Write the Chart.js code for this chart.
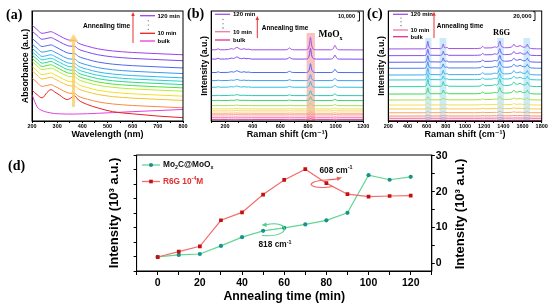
<!DOCTYPE html>
<html>
<head>
<meta charset="utf-8">
<script src="https://cdn.jsdelivr.net/npm/chart.js@4.4.1/dist/chart.umd.min.js"></script>
<style>
  body { margin: 0; background: #fff; width: 550px; height: 307px; position: relative; overflow: hidden; }
  .panel { position: absolute; }
</style>
</head>
<body>
<div class="panel" style="left:0;top:0"><canvas id="ca" width="190" height="145"></canvas></div>
<div class="panel" style="left:185px;top:0"><canvas id="cb" width="185" height="145"></canvas></div>
<div class="panel" style="left:362px;top:0"><canvas id="cc" width="188" height="145"></canvas></div>
<div class="panel" style="left:0;top:145px"><canvas id="cd" width="550" height="162"></canvas></div>
<script>
const SANS = "'Liberation Sans', 'DejaVu Sans', Arial, sans-serif";
const SERIF = "'Liberation Serif', 'DejaVu Serif', serif";

// (a) UV-vis absorbance, stacked (arbitrary units)
const absWavelength = [200, 220, 240, 260, 275, 290, 310, 340, 355, 368, 385, 420, 460, 520, 600, 700, 800];
const absShape = [27, 23, 19.5, 20.3, 21, 19.6, 17.2, 13.8, 13.2, 13.2, 10.5, 7.8, 5.5, 3.5, 2.1, 1, 0];
const absOffsets = [60.2, 54.8, 48.2, 43.1, 39.2, 36.1, 33.1, 30.1, 27.1, 22.6, 18.7, 12.0]; // 120 min ... 20 min
const absColors = ['#a040f0', '#7a4cf0', '#4f68f0', '#3c96f0', '#30b8f0', '#28d0d0', '#28d890', '#50e040', '#b8ec30', '#f0e028', '#f8c030', '#f88a40'];
const abs10min = [28, 24, 21, 26, 28.5, 26.5, 23.5, 19.5, 21, 23, 19, 15, 12, 8.5, 6.5, 4.5, 3];
const absBulk = [24, 13, 9.5, 8, 7.3, 6.8, 6.5, 6.3, 6.3, 6.3, 6.4, 6.6, 7, 7.6, 8.5, 9.5, 10.5];

// (b) Raman of Mo2C@MoOx, peak profile relative to the 818 cm-1 band
const ramanX = [100, 135, 150, 165, 225, 245, 262, 275, 287, 300, 322, 337, 352, 372, 390, 640, 655, 666, 678, 700, 780, 798, 810, 818, 826, 838, 860, 965, 983, 995, 1007, 1025, 1200];
const moProfile = [0.02, 0.02, 0.1, 0.02, 0.04, 0.11, 0.07, 0.15, 0.22, 0.12, 0.05, 0.11, 0.05, 0.07, 0.02, 0.02, 0.07, 0.17, 0.07, 0.02, 0.02, 0.06, 0.4, 1, 0.4, 0.07, 0.02, 0.02, 0.12, 0.38, 0.12, 0.02, 0.01];
const moOffsets = [64.5, 56.1, 43.9, 36.6, 30.6, 23, 18.5, 13.9, 10.9, 9.1, 7, 5.5, 3.4, 1.5];   // 120 min ... bulk
const moPeaks = [11.5, 10, 8.2, 5.5, 5.5, 4.5, 3.6, 2.7, 2.3, 1.8, 1.4, 1.1, 0.8, 0.6];
const moColors = ['#a050e8', '#8048f0', '#4a6cf0', '#3aa0f0', '#30c0e0', '#30c8b0', '#40d070', '#a8e050', '#e8e060', '#f8d070', '#f8b070', '#f89090', '#f070a0', '#e03090'];

// (c) SERS of R6G, peak profile relative to the 1363 cm-1 band
const r6gX = [200, 560, 592, 602, 612, 622, 640, 740, 762, 773, 784, 800, 812, 830, 1100, 1165, 1185, 1205, 1280, 1310, 1330, 1348, 1363, 1378, 1420, 1480, 1498, 1510, 1524, 1550, 1575, 1598, 1625, 1640, 1650, 1660, 1690, 1800];
const r6gProfile = [0, 0.01, 0.06, 0.35, 0.95, 0.35, 0.06, 0.04, 0.2, 0.62, 0.2, 0.14, 0.2, 0.05, 0.05, 0.1, 0.32, 0.12, 0.14, 0.26, 0.2, 0.4, 1, 0.38, 0.15, 0.22, 0.38, 0.6, 0.36, 0.3, 0.42, 0.26, 0.22, 0.34, 0.58, 0.3, 0.05, 0.01];
const r6gOffsets = [65.5, 59.4, 53.4, 47.9, 41.8, 37.3, 31.2, 24.5, 19.1, 14.5, 10.9, 7.5, 4.5, 2.5, 0.6];
const r6gPeaks = [7.3, 6.4, 6.4, 6.4, 6.8, 5.9, 7.3, 5.9, 3.2, 2.3, 1.8, 1.4, 1, 0.6, 0.3];
const r6gColors = ['#a050e8', '#8a50f0', '#6060f0', '#4a80f0', '#40a8f0', '#30c8d8', '#30d0a0', '#40d850', '#a8e048', '#f0e050', '#f8c850', '#f8a860', '#f88878', '#f06890', '#e03c9c'];

// (d) peak intensity vs annealing time
const annealTime = [0, 10, 20, 30, 40, 50, 60, 70, 80, 90, 100, 110, 120];
const mo2c818 = [0.1, 0.45, 0.6, 2.0, 3.5, 4.6, 5.1, 5.7, 6.4, 7.7, 14.2, 13.4, 13.9];   // left axis
const r6g608 = [1.7, 3.2, 4.7, 12.0, 14.2, 19.2, 23.3, 26.3, 22.4, 19.3, 18.6, 18.8, 18.9]; // right axis

Chart.defaults.font.family = SANS;
Chart.defaults.color = '#000';

function stacked(xs, profile, offsets, heights, colors) {
  return offsets.map((off, i) => ({
    data: xs.map((x, j) => ({ x, y: off + heights[i] * profile[j] })),
    borderColor: colors[i]
  }));
}

function rich(ctx, parts, x, y, size, family, color, align) {
  ctx.save();
  ctx.fillStyle = color;
  ctx.textBaseline = 'middle';
  ctx.textAlign = 'left';
  const f = s => `bold ${s ? size * 0.65 : size}px ${family}`;
  let w = 0;
  for (const [t, s] of parts) { ctx.font = f(s); w += ctx.measureText(t).width; }
  let cx = align === 'right' ? x - w : align === 'center' ? x - w / 2 : x;
  for (const [t, s] of parts) {
    ctx.font = f(s);
    ctx.fillText(t, cx, y + s * size * 0.32);
    cx += ctx.measureText(t).width;
  }
  ctx.restore();
}

function arrowUp(ctx, x, yFrom, yTo, color, lw, hw, hh) {
  ctx.save();
  ctx.strokeStyle = color; ctx.fillStyle = color; ctx.lineWidth = lw;
  ctx.beginPath(); ctx.moveTo(x, yFrom); ctx.lineTo(x, yTo + hh); ctx.stroke();
  ctx.beginPath(); ctx.moveTo(x - hw, yTo + hh); ctx.lineTo(x + hw, yTo + hh); ctx.lineTo(x, yTo); ctx.closePath(); ctx.fill();
  ctx.restore();
}

function hline(ctx, x0, x1, y, color) {
  ctx.save(); ctx.strokeStyle = color; ctx.lineWidth = 1.3;
  ctx.beginPath(); ctx.moveTo(x0, y); ctx.lineTo(x1, y); ctx.stroke(); ctx.restore();
}

function dots(ctx, x, ys) {
  ctx.save(); ctx.fillStyle = '#333';
  ys.forEach(y => { ctx.beginPath(); ctx.arc(x, y, 0.55, 0, Math.PI * 2); ctx.fill(); });
  ctx.restore();
}

function text(ctx, t, x, y, font, color, align) {
  ctx.save(); ctx.font = font; ctx.fillStyle = color || '#000';
  ctx.textAlign = align || 'left'; ctx.textBaseline = 'middle';
  ctx.fillText(t, x, y); ctx.restore();
}

function scaleBar(ctx, x, y0, y1) {
  ctx.save(); ctx.strokeStyle = '#000'; ctx.lineWidth = 0.9;
  ctx.beginPath();
  ctx.moveTo(x - 2, y0); ctx.lineTo(x, y0); ctx.lineTo(x, y1); ctx.lineTo(x - 2, y1);
  ctx.stroke(); ctx.restore();
}

const frame = {
  id: 'frame',
  afterDatasetsDraw(chart) {
    const { ctx, chartArea: a } = chart;
    ctx.save(); ctx.strokeStyle = '#000'; ctx.lineWidth = 1;
    ctx.strokeRect(a.left, a.top, a.right - a.left, a.bottom - a.top);
    ctx.restore();
  }
};

// shaded Raman bands, placed with the x scale
function bandPlugin(ranges, color, topPx) {
  return {
    id: 'bands',
    beforeDatasetsDraw(chart) {
      const { ctx, chartArea: a, scales: { x } } = chart;
      ctx.save(); ctx.fillStyle = color;
      ranges.forEach(([from, to]) => {
        const x0 = x.getPixelForValue(from), x1 = x.getPixelForValue(to);
        ctx.fillRect(x0, topPx, x1 - x0, a.bottom - topPx);
      });
      ctx.restore();
    }
  };
}

// draws in page coordinates
function deco(ox, oy, fn) {
  return {
    id: 'deco',
    afterDraw(chart) {
      const ctx = chart.ctx;
      ctx.save(); ctx.translate(-ox, -oy); fn(ctx, chart); ctx.restore();
    }
  };
}

function spectrumOptions(xMin, xMax, step, labelStep, yWidth, xHeight, padRight, yTitle, yTitlePad, xTitle) {
  return {
    responsive: false, animation: false, devicePixelRatio: 1,
    layout: { padding: { top: 11, right: padRight, left: 0, bottom: 0 } },
    plugins: { legend: { display: false }, tooltip: { enabled: false } },
    elements: { point: { radius: 0 }, line: { borderWidth: 1, cubicInterpolationMode: 'monotone', fill: false } },
    scales: {
      x: {
        type: 'linear', min: xMin, max: xMax,
        afterFit: s => { s.height = xHeight; },
        ticks: {
          stepSize: step, includeBounds: false, autoSkip: false, maxRotation: 0, padding: 0,
          font: { size: 5.5, weight: 'bold' }, color: '#000',
          callback: v => (v % labelStep === 0 && v > xMin - 1) ? v : ''
        },
        grid: { drawOnChartArea: false, tickLength: 2, color: '#000' },
        border: { color: '#000' },
        title: { display: true, text: xTitle, font: { size: 9, weight: 'bold' }, color: '#000', padding: { top: 0, bottom: 5.5 } }
      },
      y: {
        min: 0, max: 100,
        afterFit: s => { s.width = yWidth; },
        ticks: { display: false },
        grid: { display: false },
        border: { color: '#000' },
        title: { display: true, text: yTitle, font: { size: 8.8, weight: 'bold' }, color: '#000', padding: { top: yTitlePad, bottom: 0 } }
      }
    }
  };
}

// ---------- (a)
const aSets = stacked(absWavelength, absShape, absOffsets, absOffsets.map(() => 1), absColors);
aSets.push({ data: absWavelength.map((x, j) => ({ x, y: abs10min[j] })), borderColor: '#e82020' });
aSets.push({ data: absWavelength.map((x, j) => ({ x, y: absBulk[j] })), borderColor: '#e040e0' });

new Chart(document.getElementById('ca'), {
  type: 'line',
  data: { datasets: aSets },
  options: spectrumOptions(200, 800, 50, 100, 32, 24, 7, 'Absorbance (a.u.)', 20, 'Wavelength (nm)'),
  plugins: [frame, deco(0, 0, (ctx, chart) => {
    const x365 = chart.scales.x.getPixelForValue(365);
    arrowUp(ctx, x365, 107, 34, 'rgba(250,205,100,0.8)', 3, 5, 8);
    text(ctx, '(a)', 6, 15, `bold 14px ${SERIF}`);
    arrowUp(ctx, 133, 43, 12, '#e83030', 1, 1.8, 4);
    text(ctx, 'Annealing time', 83, 26, `bold 6.6px ${SANS}`);
    hline(ctx, 140, 155, 15.7, '#a040f0');
    hline(ctx, 140, 155, 33.3, '#e82020');
    hline(ctx, 140, 155, 41, '#e040e0');
    dots(ctx, 148.3, [20.7, 25, 29.3]);
    text(ctx, '120 min', 157.5, 16, `bold 6px ${SANS}`);
    text(ctx, '10 min', 157.5, 33.5, `bold 6px ${SANS}`);
    text(ctx, 'bulk', 157.5, 41.2, `bold 6px ${SANS}`);
  })]
});

// ---------- (b)
new Chart(document.getElementById('cb'), {
  type: 'line',
  data: { datasets: stacked(ramanX, moProfile, moOffsets, moPeaks, moColors) },
  options: spectrumOptions(100, 1200, 100, 200, 26.2, 24, 6.7, 'Intensity (a.u.)', 14.6, 'Raman shift (cm⁻¹)'),
  plugins: [bandPlugin([[790, 850]], 'rgba(240,120,120,0.45)', 33), frame, deco(185, 0, ctx => {
    text(ctx, '(b)', 187, 14, `bold 14px ${SERIF}`);
    hline(ctx, 215, 230, 14.3, '#a050e8');
    hline(ctx, 215, 230, 31.7, '#f07aa0');
    hline(ctx, 215, 230, 40, '#e03090');
    dots(ctx, 223, [19.5, 23.7, 27.9]);
    text(ctx, '120 min', 233, 14.5, `bold 6px ${SANS}`);
    text(ctx, '10 min', 233, 31.9, `bold 6px ${SANS}`);
    text(ctx, 'bulk', 233, 40.2, `bold 6px ${SANS}`);
    arrowUp(ctx, 257.3, 38, 16, '#e83030', 1, 1.8, 4);
    text(ctx, 'Annealing time', 261.7, 28.3, `bold 6.5px ${SANS}`);
    text(ctx, '10,000', 355, 16.7, `bold 5.6px ${SANS}`, '#000', 'right');
    scaleBar(ctx, 359.5, 12, 21);
    rich(ctx, [['MoO', 0], ['x', 1]], 318.5, 35, 9.5, SERIF, '#000');
  })]
});

// ---------- (c)
new Chart(document.getElementById('cc'), {
  type: 'line',
  data: { datasets: stacked(r6gX, r6gProfile, r6gOffsets, r6gPeaks, r6gColors) },
  options: spectrumOptions(200, 1800, 100, 200, 26.3, 24, 8.3, 'Intensity (a.u.)', 14.3, 'Raman shift (cm⁻¹)'),
  plugins: [bandPlugin([[585, 650], [735, 805], [1336, 1405], [1610, 1678]], 'rgba(140,210,245,0.45)', 38), frame, deco(362, 0, ctx => {
    text(ctx, '(c)', 367, 14, `bold 14px ${SERIF}`);
    hline(ctx, 393, 408, 14.3, '#a050e8');
    hline(ctx, 393, 408, 30, '#f07aa0');
    hline(ctx, 393, 408, 36.7, '#e03090');
    dots(ctx, 401, [18, 21.8, 25.6]);
    text(ctx, '120 min', 410.5, 14.5, `bold 6px ${SANS}`);
    text(ctx, '10 min', 410.5, 30.2, `bold 6px ${SANS}`);
    text(ctx, 'bulk', 410.5, 36.9, `bold 6px ${SANS}`);
    arrowUp(ctx, 434, 38, 11.7, '#e83030', 1, 1.8, 4);
    text(ctx, 'Annealing time', 436.7, 26, `bold 6.5px ${SANS}`);
    text(ctx, 'R6G', 493, 32.3, `bold 8.5px ${SERIF}`);
    text(ctx, '20,000', 531.5, 16, `bold 6px ${SANS}`, '#000', 'right');
    scaleBar(ctx, 535, 11.7, 20.5);
  })]
});

// ---------- (d)
function loopArrow(ctx, pts, tip, dir, color) {
  ctx.save(); ctx.strokeStyle = color; ctx.fillStyle = color; ctx.lineWidth = 1.1;
  ctx.beginPath(); ctx.moveTo(pts[0], pts[1]);
  for (let i = 2; i < pts.length; i += 6) ctx.bezierCurveTo(pts[i], pts[i + 1], pts[i + 2], pts[i + 3], pts[i + 4], pts[i + 5]);
  ctx.stroke();
  const [tx, ty] = tip, [dx, dy] = dir, len = Math.hypot(dx, dy), ux = dx / len, uy = dy / len;
  ctx.beginPath();
  ctx.moveTo(tx, ty);
  ctx.lineTo(tx - ux * 5 - uy * 2.2, ty - uy * 5 + ux * 2.2);
  ctx.lineTo(tx - ux * 5 + uy * 2.2, ty - uy * 5 - ux * 2.2);
  ctx.closePath(); ctx.fill();
  ctx.restore();
}

const axisFont = { size: 10.5, weight: 'bold' };
new Chart(document.getElementById('cd'), {
  type: 'line',
  data: {
    labels: annealTime,
    datasets: [
      {
        data: annealTime.map((t, i) => ({ x: t, y: r6g608[i] })), yAxisID: 'y2', order: 0,
        borderColor: '#f26d6d', borderWidth: 1.2, pointStyle: 'rect', pointRadius: 2.6,
        pointBackgroundColor: '#c41010', pointBorderColor: '#c41010', pointBorderWidth: 0
      },
      {
        data: annealTime.map((t, i) => ({ x: t, y: mo2c818[i] })), yAxisID: 'y', order: 1,
        borderColor: '#62d692', borderWidth: 1.2, pointStyle: 'circle', pointRadius: 2.1,
        pointBackgroundColor: '#17938c', pointBorderColor: '#17938c', pointBorderWidth: 0
      }
    ]
  },
  options: {
    responsive: false, animation: false, devicePixelRatio: 1,
    layout: { padding: { top: 10, right: 0, left: 0, bottom: 0 } },
    plugins: { legend: { display: false }, tooltip: { enabled: false } },
    elements: { line: { tension: 0, fill: false } },
    scales: {
      x: {
        type: 'linear', min: -10, max: 130,
        afterFit: s => { s.height = 36; },
        ticks: {
          stepSize: 10, includeBounds: false, autoSkip: false, maxRotation: 0, padding: 1.5,
          font: axisFont, color: '#000',
          callback: v => (v % 20 === 0 && v >= 0 && v <= 120) ? v : ''
        },
        grid: { drawOnChartArea: false, tickLength: 4, color: '#000' },
        border: { color: '#000' },
        title: { display: true, text: 'Annealing time (min)', font: { size: 12.3, weight: 'bold' }, color: '#000', padding: { top: 0, bottom: 3 } }
      },
      y: {
        position: 'left', min: -2.33, max: 17.67,
        afterFit: s => { s.width = 136.6; },
        ticks: {
          stepSize: 2.5, includeBounds: false, autoSkip: false, padding: 2,
          font: axisFont, color: '#000',
          callback: v => (Math.abs(v % 5) < 1e-6 && v >= 0) ? v : ''
        },
        grid: { drawOnChartArea: false, tickLength: 3, color: '#000' },
        border: { color: '#000' },
        title: { display: true, text: 'Intensity (10³ a.u.)', font: { size: 13, weight: 'bold' }, color: '#000', padding: { top: 106.7, bottom: 0 } }
      },
      y2: {
        position: 'right', min: -2.21, max: 30.28,
        afterFit: s => { s.width = 118.2; },
        ticks: {
          stepSize: 5, includeBounds: false, autoSkip: false, padding: 1,
          font: axisFont, color: '#000',
          callback: v => (v % 10 === 0 && v >= 0) ? v : ''
        },
        grid: { drawOnChartArea: false, tickLength: 3, color: '#000' },
        border: { color: '#000' }
      }
    }
  },
  plugins: [frame, deco(0, 145, ctx => {
    text(ctx, '(d)', 8, 166, `bold 14px ${SERIF}`);
    // right axis title reads bottom to top
    ctx.save();
    ctx.translate(460, 214); ctx.rotate(-Math.PI / 2);
    text(ctx, 'Intensity (10³ a.u.)', 0, 0, `bold 13px ${SANS}`, '#000', 'center');
    ctx.restore();
    // legend
    hline(ctx, 142, 160, 165, '#62d692');
    ctx.save(); ctx.fillStyle = '#17938c'; ctx.beginPath(); ctx.arc(151, 165, 2.1, 0, Math.PI * 2); ctx.fill(); ctx.restore();
    rich(ctx, [['Mo', 0], ['2', 1], ['C@MoO', 0], ['x', 1]], 163, 164.5, 8.3, SANS, '#111');
    hline(ctx, 142, 160, 181.5, '#f26d6d');
    ctx.save(); ctx.fillStyle = '#c41010'; ctx.fillRect(149.2, 179.7, 3.6, 3.6); ctx.restore();
    rich(ctx, [['R6G 10', 0], ['-4', -1], ['M', 0]], 163, 181.5, 8.3, SANS, '#e03030');
    // annotations
    loopArrow(ctx, [333, 186.5, 318, 189, 305, 186, 314, 182, 320, 179.5, 330, 180.5, 338, 178.6], [342, 177.6], [1, -0.25], '#f06060');
    rich(ctx, [['608 cm', 0], ['-1', -1]], 319.5, 170.5, 8.3, SANS, '#111');
    loopArrow(ctx, [262, 235.5, 278, 237, 290, 231, 282, 225.5, 278, 222.8, 271, 223.6, 265.5, 224.7], [261.5, 225], [-1, 0.05], '#4fd08a');
    rich(ctx, [['818 cm', 0], ['-1', -1]], 258.5, 245, 8.3, SANS, '#111');
  })]
});
</script>
</body>
</html>
